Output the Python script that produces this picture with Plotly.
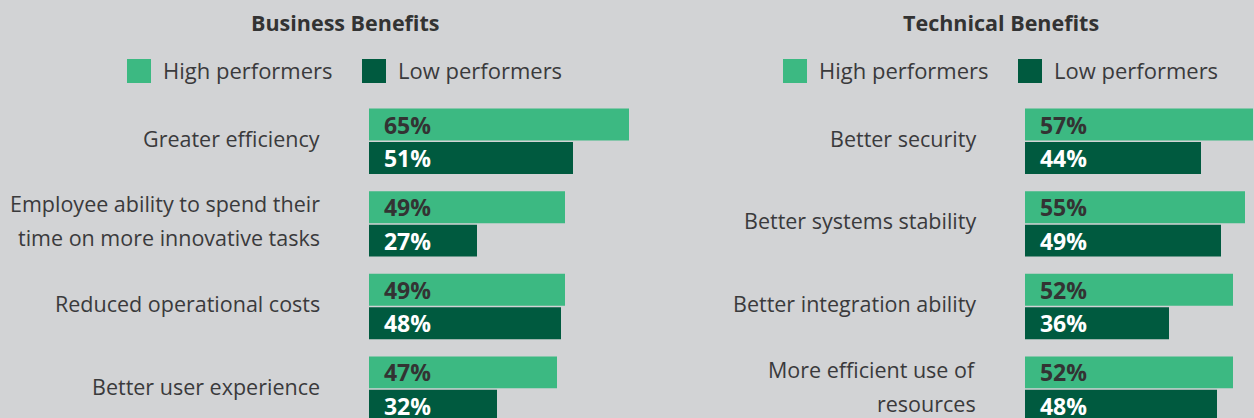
import plotly.graph_objects as go

# ---- data -------------------------------------------------------------
business_labels = [
    "Greater efficiency",
    "Employee ability to spend their<br>time on more innovative tasks",
    "Reduced operational costs",
    "Better user experience",
]
business_high = [65, 49, 49, 47]
business_low = [51, 27, 48, 32]

technical_labels = [
    "Better security",
    "Better systems stability",
    "Better integration ability",
    "More efficient use of<br>resources",
]
technical_high = [57, 55, 52, 52]
technical_low = [44, 49, 36, 48]

series_names = ["High performers", "Low performers"]
panel_titles = ["Business Benefits", "Technical Benefits"]

# ---- style ------------------------------------------------------------
W, H = 1254, 418
BG = "#d2d3d5"
HIGH = "#3cb982"
LOW = "#005a3f"
TEXT = "#3a3a3c"
TITLE = "#333333"
FONT = "Open Sans"
PAD = "\u00a0\u00a0"

fig = go.Figure()

panels = [
    dict(labels=business_labels, high=business_high, low=business_low,
         xa="x", ya="y", dom=[369 / W, 640 / W], xmax=67.75, head_cx=345),
    dict(labels=technical_labels, high=technical_high, low=technical_low,
         xa="x2", ya="y2", dom=[1025 / W, 1.0], xmax=57.25, head_cx=1001),
]

annotations = []
shapes = []

for p in panels:
    cats = list(range(len(p["labels"])))
    for name, vals, col, tcol in [
        (series_names[0], p["high"], HIGH, "#333333"),
        (series_names[1], p["low"], LOW, "#ffffff"),
    ]:
        fig.add_trace(go.Bar(
            x=vals, y=cats, orientation="h", name=name,
            marker=dict(color=col, line=dict(width=0)),
            text=vals, texttemplate=PAD + "%{x}%",
            textposition="inside", insidetextanchor="start",
            textangle=0, constraintext="none",
            insidetextfont=dict(family=FONT, size=23, color=tcol, weight="bold"),
            xaxis=p["xa"], yaxis=p["ya"], showlegend=False,
            hoverinfo="skip",
        ))

    # category labels, one annotation per text line
    for i, lab in enumerate(p["labels"]):
        lines = lab.split("<br>")
        n = len(lines)
        for k, line in enumerate(lines):
            annotations.append(dict(
                xref=p["xa"], yref=p["ya"], x=0, y=i,
                text=line, showarrow=False, xanchor="right", yanchor="middle",
                xshift=-47, yshift=3 - (k - (n - 1) / 2) * 34,
                font=dict(family=FONT, size=21.5, color=TEXT),
            ))

    # panel heading
    cx = p["head_cx"]
    annotations.append(dict(
        xref="paper", yref="paper", x=cx / W, y=(H - 22) / H,
        text="<b>%s</b>" % panel_titles[panels.index(p)], showarrow=False,
        xanchor="center", yanchor="middle",
        font=dict(family=FONT, size=21.5, color=TITLE),
    ))

    # legend: swatch + text for each series
    left = cx - 218
    swatch_x = [left, left + 235]
    for sx, name, col in zip(swatch_x, series_names, [HIGH, LOW]):
        shapes.append(dict(
            type="rect", xref="paper", yref="paper",
            x0=sx / W, x1=(sx + 24) / W, y0=(H - 83) / H, y1=(H - 59) / H,
            fillcolor=col, line=dict(width=0),
        ))
        annotations.append(dict(
            xref="paper", yref="paper", x=(sx + 34) / W, y=(H - 70) / H,
            text=name, showarrow=False, xanchor="left", yanchor="middle",
            font=dict(family=FONT, size=22, color=TEXT),
        ))

axis_common = dict(showgrid=False, zeroline=False, showticklabels=False,
                   showline=False, ticks="", fixedrange=True)
ytop = (H - 100) / H

fig.update_layout(
    width=W, height=H,
    margin=dict(l=0, r=0, t=0, b=0),
    paper_bgcolor=BG, plot_bgcolor=BG,
    barmode="group", bargap=0.19, bargroupgap=0.045,
    showlegend=False,
    xaxis=dict(domain=panels[0]["dom"], range=[0, panels[0]["xmax"]], anchor="y", **axis_common),
    yaxis=dict(domain=[0, ytop], range=[3.35, -0.5], anchor="x", **axis_common),
    xaxis2=dict(domain=panels[1]["dom"], range=[0, panels[1]["xmax"]], anchor="y2", **axis_common),
    yaxis2=dict(domain=[0, ytop], range=[3.35, -0.5], anchor="x2", **axis_common),
    annotations=annotations,
    shapes=shapes,
    font=dict(family=FONT),
)

fig.write_html("out.html")
